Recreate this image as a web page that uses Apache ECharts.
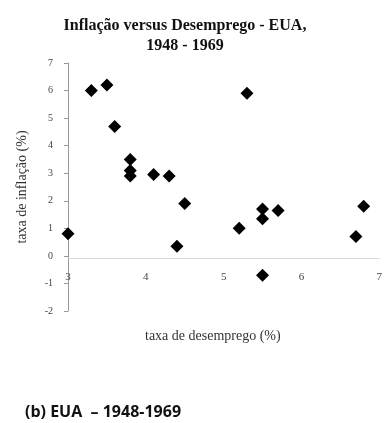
<!DOCTYPE html>
<html>
<head>
<meta charset="utf-8">
<script src="https://cdn.jsdelivr.net/npm/echarts@6/dist/echarts.min.js"></script>
<style>
  html, body { margin: 0; padding: 0; background: #fff; }
  #chart { width: 385px; height: 423px; }
</style>
</head>
<body>
<div id="chart"></div>
<script>
// desemprego (%) e inflação (%)
const unemployment = [3.0, 3.3, 3.5, 3.6, 3.8, 3.8, 3.8, 4.1, 4.3, 4.4, 4.5, 5.2, 5.3, 5.5, 5.5, 5.5, 5.7, 6.7, 6.8]
const inflation = [0.8, 6.0, 6.2, 4.7, 3.5, 3.1, 2.9, 2.95, 2.9, 0.35, 1.9, 1.0, 5.9, 1.7, 1.35, -0.7, 1.65, 0.7, 1.8]
const xTicks = [3, 7, 1]
const yTicks = [-2, 7, 1]

const points = unemployment.map((u, i) => [u, inflation[i]])

const chart = echarts.init(document.getElementById('chart'))
const serif = '"Liberation Serif", "DejaVu Serif", serif'

chart.setOption({
  animation: false,
  title: {
    text: 'Inflação versus Desemprego - EUA,\n1948 - 1969',
    left: 180,
    textAlign: 'center',
    top: 11,
    textStyle: { fontFamily: serif, fontSize: 16, fontWeight: 'bold', color: '#111', lineHeight: 20 }
  },
  grid: { left: 68, top: 63, right: 2, bottom: 112 },
  xAxis: {
    type: 'value',
    min: xTicks[0],
    max: xTicks[1],
    interval: xTicks[2],
    // linha do eixo no zero do eixo y
    axisLine: { onZero: false, lineStyle: { color: '#d8d8d8' } },
    offset: -53,
    axisTick: { show: false },
    axisLabel: { fontFamily: serif, fontSize: 11, color: '#444', margin: 14 },
    splitLine: { show: false }
  },
  yAxis: {
    type: 'value',
    min: yTicks[0],
    max: yTicks[1],
    interval: yTicks[2],
    axisLine: { show: true, lineStyle: { color: '#999' } },
    axisTick: { show: true, length: 4, lineStyle: { color: '#999' } },
    axisLabel: { fontFamily: serif, fontSize: 10, color: '#444', margin: 15 },
    splitLine: { show: false },
    name: 'taxa de inflação (%)',
    nameLocation: 'middle',
    nameGap: 39,
    nameTextStyle: { fontFamily: serif, fontSize: 14, color: '#333' }
  },
  graphic: [
    {
      type: 'text', left: 145, top: 329,
      style: { text: 'taxa de desemprego (%)', font: '14px ' + serif, fill: '#333' }
    },
    {
      type: 'text', left: 25, top: 404,
      style: { text: '(b) EUA  – 1948-1969', font: 'bold 16px "Open Sans", "DejaVu Sans", sans-serif', fill: '#111' }
    }
  ],
  series: [{
    type: 'scatter',
    data: points,
    symbol: 'diamond',
    symbolSize: 13,
    itemStyle: { color: '#000', opacity: 1 }
  }]
})
</script>
</body>
</html>
